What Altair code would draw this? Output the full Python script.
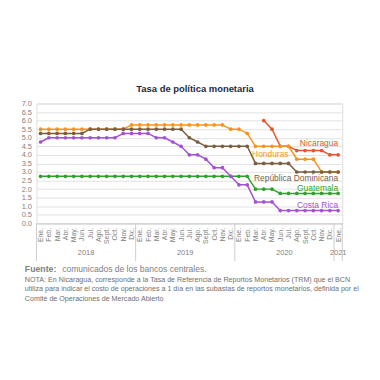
import altair as alt
import pandas as pd

month_names = ["Ene.", "Feb.", "Mar.", "Abr.", "May.", "Jun.", "Jul.", "Ago.", "Sept.", "Oct.", "Nov.", "Dic."]
years = ["2018", "2019", "2020", "2021"]
n_months = 37  # Ene. 2018 .. Ene. 2021

countries = ["Nicaragua", "Honduras", "República Dominicana", "Guatemala", "Costa Rica"]
colors = ["#e4572e", "#f7941d", "#7b5e3f", "#2fa22c", "#a452d3"]

nicaragua = [None] * 27 + [6.0, 5.5, 4.5, 4.5, 4.25, 4.25, 4.25, 4.25, 4.0, 4.0]
honduras = [5.5] * 11 + [5.75] * 12 + [5.5, 5.5, 5.25] + [4.5] * 5 + [3.75] * 3 + [3.0] * 3
dominicana = [5.25] * 6 + [5.5] * 12 + [5.0, 4.75] + [4.5] * 6 + [3.5] * 5 + [3.0] * 6
guatemala = [2.75] * 26 + [2.0] * 3 + [1.75] * 8
costa_rica = ([4.75] + [5.0] * 9 + [5.25] * 4 + [5.0, 5.0, 4.75, 4.5, 4.0, 4.0, 3.75, 3.25, 3.25, 2.75,
              2.25, 2.25] + [1.25] * 3 + [0.75] * 8)

series = [nicaragua, honduras, dominicana, guatemala, costa_rica]
rows = []
for name, vals in zip(countries, series):
    for i, v in enumerate(vals):
        if v is not None:
            rows.append({"m": i, "pais": name, "tasa": v})
df = pd.DataFrame(rows)

W, H = 308.6, 121
PX = H / 7.0  # pixels per unit on y
FONT = "Liberation Sans"

color = alt.Color("pais:N", scale=alt.Scale(domain=countries, range=colors), legend=None)
xscale = alt.Scale(domain=[-0.5, n_months - 0.5], nice=False, zero=False)
yscale = alt.Scale(domain=[0, 7], nice=False)

label_expr = "[" + ",".join("'%s'" % m for m in month_names) + "][datum.value % 12]"
xaxis = alt.Axis(values=list(range(n_months)), labelExpr=label_expr, labelAngle=270,
                 labelAlign="right", labelBaseline="middle", labelFontSize=7,
                 labelColor="#808080", labelPadding=4, ticks=False, grid=False,
                 domainColor="#cccccc", labelOverlap=False, labelFont=FONT,
                 labelBound=False, labelFlush=False, title=None)
yaxis = alt.Axis(values=[i * 0.5 for i in range(15)], format=".1f", labelFontSize=7.5,
                 labelColor="#808080", ticks=False, domain=False, gridColor="#e2e2e2",
                 labelPadding=5, labelFont=FONT, labelOverlap=False, labelFlush=False, title=None)


def X(f):
    return alt.X(f, scale=xscale, axis=xaxis)


def Y(f):
    return alt.Y(f, scale=yscale, axis=yaxis)


base = alt.Chart(df)
lines = base.mark_line(strokeWidth=1.5).encode(
    x=X("m:Q"), y=Y("tasa:Q"), color=color, detail="pais:N"
)
points = base.mark_circle(size=14, opacity=1).encode(x=X("m:Q"), y=Y("tasa:Q"), color=color)

# series labels
lab_df = pd.DataFrame({
    "pais": countries,
    "lx": [36, 30.0, 36, 36, 36],
    "ly": [4.69, 4.04, 2.66, 2.04, 1.08],
})
labels = alt.Chart(lab_df).mark_text(align="right", baseline="middle", fontSize=8.5, font=FONT).encode(
    x=X("lx:Q"), y=Y("ly:Q"), text="pais:N", color=color
)

# year separators and labels (below the axis)
sep_df = pd.DataFrame({"b": [-0.5, 11.5, 23.5, 35.5, 36.5], "y0": 0.0, "y1": -38 / PX})
seps = alt.Chart(sep_df).mark_rule(color="#cccccc", strokeWidth=1).encode(
    x=X("b:Q"), y=Y("y0:Q"), y2="y1:Q"
)
yr_df = pd.DataFrame({"year": years, "c": [5.5, 17.5, 29.5, 36], "yy": -30 / PX})
yr_labels = alt.Chart(yr_df).mark_text(fontSize=7.5, color="#808080", font=FONT, baseline="middle").encode(
    x=X("c:Q"), y=Y("yy:Q"), text="year:N"
)

title_txt = ["Tasa de política monetaria"]
title = alt.Chart(pd.DataFrame({"t": title_txt})).mark_text(
    fontSize=9.5, fontWeight="bold", color="#1c2b3c", font=FONT, baseline="middle"
).encode(x=alt.value(160), y=alt.value(-15), text="t:N")

fuente_b = alt.Chart(pd.DataFrame({"t": ["Fuente:"]})).mark_text(
    fontSize=8.8, fontWeight="bold", color="#808080", font=FONT, align="left", baseline="middle"
).encode(x=alt.value(-11.7), y=alt.value(167), text="t:N")
fuente = alt.Chart(pd.DataFrame({"t": ["comunicados de los bancos centrales."]})).mark_text(
    fontSize=8.6, color="#808080", font=FONT, align="left", baseline="middle"
).encode(x=alt.value(26), y=alt.value(167), text="t:N")

nota_lines = [
    "NOTA: En Nicaragua, corresponde a la Tasa de Referencia de Reportos Monetarios (TRM) que el BCN",
    "utiliza para indicar el costo de operaciones a 1 día en las subastas de reportos monetarios, definida por el",
    "Comité de Operaciones de Mercado Abierto",
]
nota = alt.Chart(pd.DataFrame({"t": ["\n".join(nota_lines)]})).mark_text(
    fontSize=7.2, color="#707070", font=FONT, align="left", baseline="middle",
    lineBreak="\n", lineHeight=9.7
).encode(x=alt.value(-11.7), y=alt.value(178), text="t:N")

chart = alt.layer(lines, points, labels, seps, yr_labels, title, fuente_b, fuente, nota).properties(
    width=W, height=H,
    autosize=alt.AutoSizeParams(type="none"),
    padding={"left": 28.7, "top": 95, "right": 30, "bottom": 80},
).configure_view(stroke=None).configure(font=FONT)

chart.save("out.html", embed_options={"renderer": "svg", "actions": False})
